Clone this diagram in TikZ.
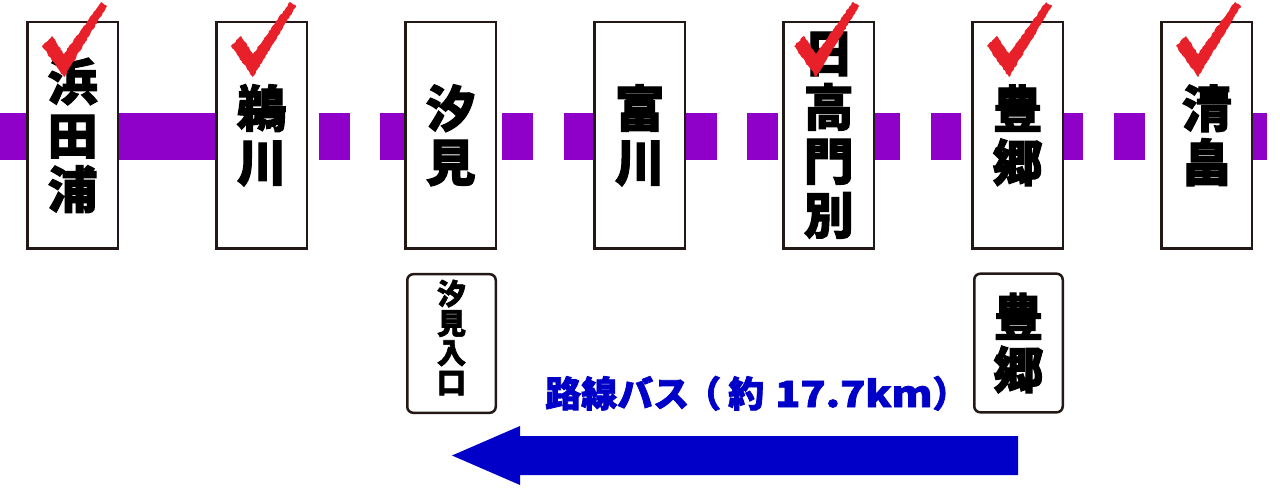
\documentclass[tikz,border=0pt]{standalone}
\usepackage{fontspec}
\usepackage{graphicx}
\newfontfamily\jp{Noto Sans CJK JP}[BoldFeatures={FakeBold=2}]
\usetikzlibrary{decorations.pathmorphing}
\definecolor{boxline}{RGB}{35,24,21}
\definecolor{linepurple}{RGB}{143,0,200}
\definecolor{busblue}{RGB}{0,0,200}
\definecolor{checkred}{RGB}{232,32,42}
\newcommand\redtick[1]{%
  \fill[checkred, decorate, decoration={random steps, segment length=2pt, amplitude=0.6pt}]
   ({#1+15},46) -- ({#1+25},36) -- ({#1+37},54) -- ({#1+74},2) -- ({#1+80},6) -- ({#1+37},77) -- cycle;}
\begin{document}
\begin{tikzpicture}[x=1pt,y=-1pt,
  stn/.style={draw=boxline, line width=2.7pt, fill=white, minimum width=90.7pt,
    minimum height=226.7pt, inner sep=0pt, align=center,
    font=\jp\bfseries\fontsize{50}{54}\selectfont},
  bstn/.style={draw=boxline, line width=2.5pt, fill=white, rounded corners=6pt,
    minimum width=88.5pt, minimum height=138.6pt, inner sep=0pt, align=center},
  bigtxt/.style={align=center, inner sep=0pt, font=\jp\bfseries\fontsize{50}{53}\selectfont},
  smalltxt/.style={align=center, inner sep=0pt, font=\jp\bfseries\fontsize{29}{29.5}\selectfont},
  railseg/.style={fill=linepurple}]
\useasboundingbox (0,0) rectangle (1280,500);
% rail line
\fill[railseg] (0,113) rectangle (216,160);
\foreach \k in {0,...,15}{
  \fill[railseg] ({319+61.15*\k},113) rectangle ({349.6+61.15*\k},160);
}
% stations
\node[stn] (hamada) at (72.7,135.3) {浜\\田\\浦};
\node[stn] (ukawa) at (261.7,135.3) {鵜\\川};
\node[stn] (shiomi) at (450.7,135.3) {汐\\見};
\node[stn] (tomikawa) at (639.7,135.3) {富\\川};
\node[stn] (hidaka) at (828.7,135.3) {日\\高\\門\\別};
\node[stn] (toyosato) at (1017.7,135.3) {豊\\郷};
\node[stn] (kiyohata) at (1206.7,135.3) {清\\畠};
% bus stops
\node[bstn] (shiomiB) at (451.5,343.5) {};
\node[smalltxt] (shiomiBt) at ([yshift=6pt]shiomiB.center) {汐\\見\\入\\口};
\node[bstn] (toyosatoB) at (1018.5,343) {};
\node[bigtxt] (toyosatoBt) at (toyosatoB.center) {豊\\郷};
% ticks
\redtick{27}
\redtick{216}
\redtick{779}
\redtick{972}
\redtick{1161}
% bus route
\node[text=busblue, inner sep=0pt, anchor=base west, font=\jp\bfseries\fontsize{36}{40}\selectfont] (buslabel) at (545,407) {路線バス\kern-4pt（\kern7pt 約\kern11pt\scalebox{1.15}[1]{17.7km}）};
\fill[busblue] (452,455.5) -- (520,426) -- (520,436) -- (1018,436) -- (1018,475) -- (520,475) -- (520,485) -- cycle;
\end{tikzpicture}
\end{document}
